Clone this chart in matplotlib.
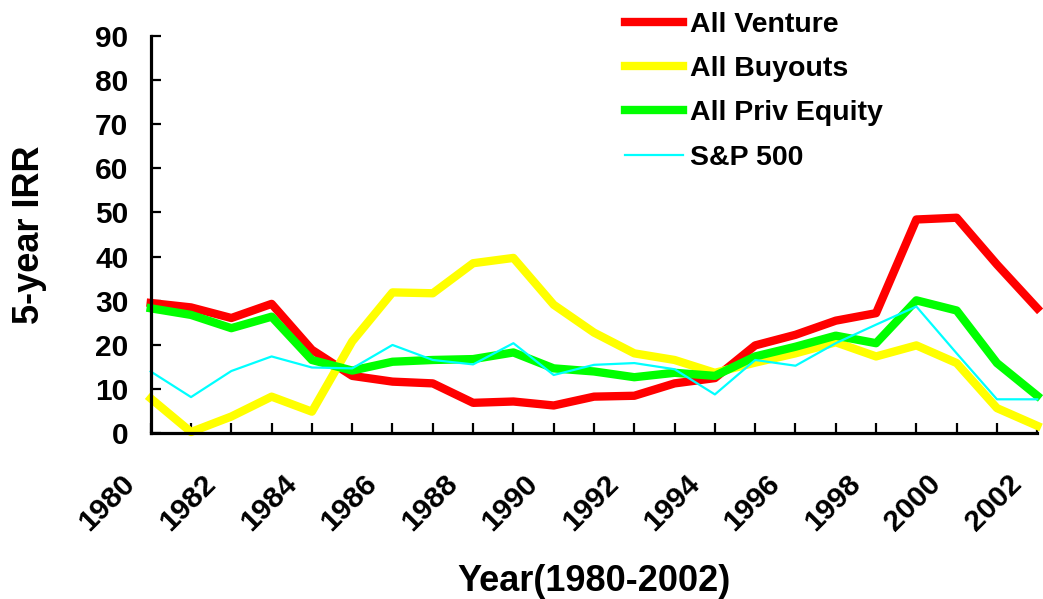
import matplotlib
matplotlib.use("Agg")
import matplotlib.pyplot as plt
import matplotlib.transforms as mtransforms

plt.rcParams['font.family'] = ['Liberation Sans', 'DejaVu Sans']
plt.rcParams['font.weight'] = 'bold'
plt.rcParams['axes.labelweight'] = 'bold'

# 5-year IRR by vintage year
years = list(range(1980, 2003))
venture = [29.5, 28.5, 26.1, 29.3, 18.9, 13.0, 11.7, 11.3, 6.9, 7.2, 6.3, 8.3,
           8.5, 11.3, 12.5, 19.9, 22.3, 25.5, 27.2, 48.4, 48.8, 38.2, 28.3]
buyouts = [7.9, 0.3, 3.8, 8.3, 4.9, 20.8, 31.9, 31.7, 38.5, 39.7, 29.1, 22.8,
           18.1, 16.6, 13.7, 16.0, 18.1, 20.6, 17.4, 19.9, 15.9, 5.7, 1.7]
priv_equity = [28.3, 26.8, 23.8, 26.4, 16.6, 14.2, 16.2, 16.6, 16.8, 18.3, 14.7, 14.0,
               12.7, 13.7, 13.0, 17.4, 19.6, 22.1, 20.4, 30.1, 27.8, 15.9, 8.5]
sp500 = [14.0, 8.2, 14.1, 17.4, 14.9, 14.7, 20.0, 16.6, 15.6, 20.4, 13.2, 15.5,
         15.9, 14.5, 8.8, 16.6, 15.3, 20.4, 24.6, 28.7, 18.1, 7.7, 7.7]

tick_labels = [str(y) if y % 2 == 0 else '' for y in years]

fig = plt.figure(figsize=(10.43, 5.99), dpi=100)
ax = fig.add_axes([0.1445, 0.2766, 0.8500, 0.6638])

ax.plot(years, venture, color='#ff0000', lw=6, label='All Venture', clip_on=False)
ax.plot(years, buyouts, color='#ffff00', lw=6, label='All Buyouts', clip_on=False)
ax.plot(years, priv_equity, color='#00ff00', lw=6, label='All Priv Equity', clip_on=False)
ax.plot(years, sp500, color='#00ffff', lw=1.6, label='S&P 500', clip_on=False)

ax.set_xlim(1980, 2002)
ax.set_ylim(0, 90)
ax.set_yticks(range(0, 91, 10))
ax.set_xticks(years)
ax.set_xticklabels(tick_labels, rotation=45, ha='right', va='top')

for side in ('top', 'right'):
    ax.spines[side].set_visible(False)
for side in ('left', 'bottom'):
    ax.spines[side].set_linewidth(2.3)

ax.tick_params(axis='both', direction='in', length=7, width=1.6, labelsize=21.5)
ax.tick_params(axis='x', pad=26)
ax.tick_params(axis='y', pad=16)

# nudge the slanted year labels left of their ticks
shift = mtransforms.ScaledTranslation(-10 / 100, 0, fig.dpi_scale_trans)
for lbl in ax.get_xticklabels():
    lbl.set_transform(lbl.get_transform() + shift)

ax.set_xlabel('Year(1980-2002)', fontsize=26, labelpad=20)
ax.set_ylabel('5-year IRR', fontsize=26, labelpad=35)

leg = ax.legend(loc='upper left', bbox_to_anchor=(625 / 1043, 1 - 12 / 599),
                bbox_transform=fig.transFigure, frameon=False, fontsize=20.5,
                borderpad=0, borderaxespad=0, handlelength=2.05,
                handletextpad=0.22, labelspacing=0.64)

fig.savefig('out.png', dpi=100)
